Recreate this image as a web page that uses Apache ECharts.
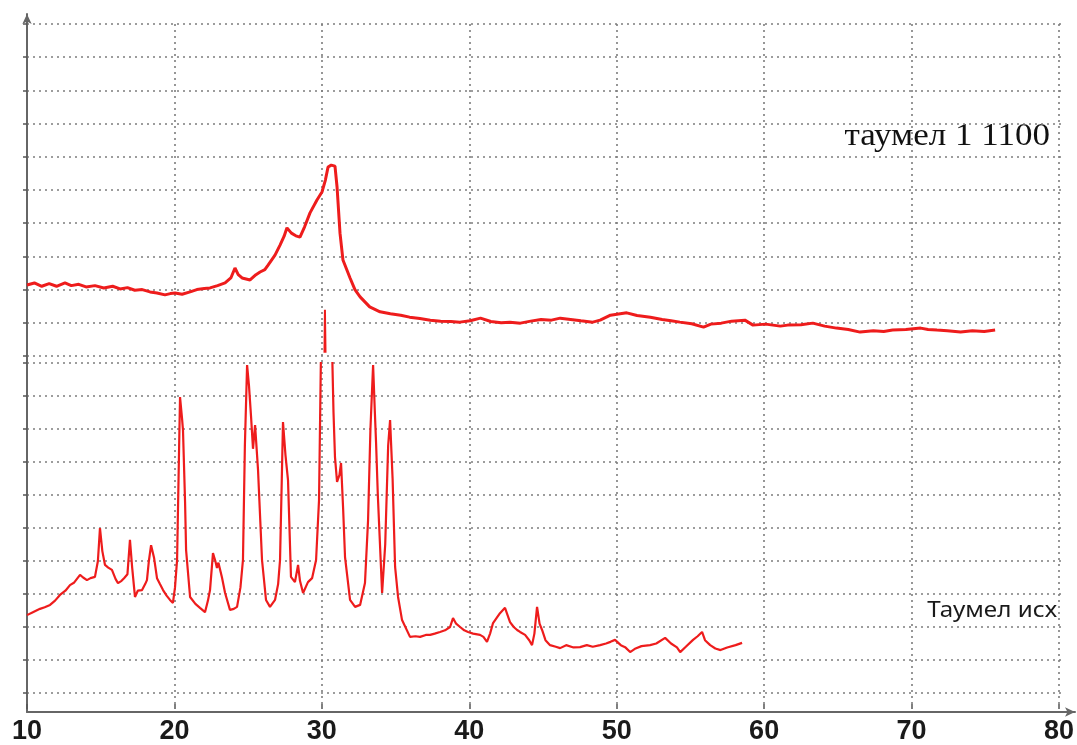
<!DOCTYPE html>
<html>
<head>
<meta charset="utf-8">
<script src="https://cdn.jsdelivr.net/npm/echarts@6/dist/echarts.min.js"></script>
<style>
  html, body { margin: 0; padding: 0; background: #fff; }
  #chart { width: 1077px; height: 745px; }
</style>
</head>
<body>
<div id="chart"></div>
<script>
// 2θ, градусы
var xTicks = [10, 20, 30, 40, 50, 60, 70, 80];

// таумел 1 1100 (верхняя дифрактограмма), отн. ед.
var taumel1100 = [
  [10.0,2.14],[10.5,2.2],[11.0,2.1],[11.5,2.18],[12.0,2.1],[12.57,2.2],[13.0,2.12],[13.5,2.16],
  [14.0,2.08],[14.6,2.12],[15.2,2.05],[15.8,2.1],[16.3,2.02],[16.8,2.06],[17.3,1.98],[17.8,2.0],
  [18.33,1.93],[18.8,1.9],[19.34,1.84],[19.7,1.88],[20.02,1.9],[20.5,1.86],[21.04,1.93],[21.5,2.0],
  [22.0,2.03],[22.39,2.05],[22.9,2.12],[23.41,2.2],[23.8,2.35],[24.08,2.65],[24.3,2.45],[24.56,2.35],
  [25.1,2.29],[25.5,2.45],[25.78,2.53],[26.1,2.6],[26.32,2.74],[26.79,3.04],[27.13,3.34],[27.4,3.6],
  [27.6,3.86],[27.9,3.7],[28.2,3.62],[28.48,3.58],[28.8,3.9],[29.16,4.31],[29.63,4.7],[29.97,4.94],
  [30.2,5.3],[30.38,5.69],[30.6,5.75],[30.85,5.72],[30.99,5.09],[31.19,3.7],[31.39,2.89],[31.87,2.35],
  [32.2,2.0],[32.55,1.78],[33.2,1.48],[33.9,1.33],[34.6,1.27],[35.3,1.23],[35.9,1.17],[36.6,1.13],
  [37.3,1.08],[38.0,1.05],[38.7,1.04],[39.3,1.02],[40.0,1.06],[40.7,1.14],[41.4,1.04],[42.1,1.0],
  [42.7,1.02],[43.4,0.99],[44.1,1.05],[44.8,1.1],[45.5,1.08],[46.1,1.14],[46.8,1.1],[47.5,1.06],
  [48.3,1.02],[48.8,1.08],[49.5,1.23],[50.6,1.3],[51.3,1.22],[52.2,1.17],[53.0,1.1],[53.6,1.06],
  [54.2,1.02],[55.0,0.97],[55.8,0.87],[56.3,0.96],[57.0,0.99],[57.7,1.05],[58.6,1.08],[59.15,0.93],
  [60.0,0.96],[61.0,0.9],[61.5,0.93],[62.4,0.94],[63.2,0.99],[64.0,0.9],[64.8,0.84],[65.6,0.8],
  [66.4,0.72],[67.3,0.76],[68.0,0.74],[68.6,0.78],[69.5,0.8],[70.5,0.84],[71.0,0.8],[71.6,0.78],
  [72.3,0.76],[73.2,0.72],[74.0,0.76],[74.8,0.74],[75.54,0.78]
];

// вершина самого сильного пика исходного образца, видная выше нижней панели
var ishTopPeak = [[30.14,0.1],[30.17,1.39],[30.21,0.1]];

// Таумел исх (нижняя дифрактограмма), отн. ед.
var taumelIsh = [
  [10.0,2.36],[10.4,2.45],[10.88,2.55],[11.2,2.6],[11.56,2.67],[11.9,2.8],[12.23,2.97],[12.6,3.1],
  [12.91,3.27],[13.2,3.35],[13.59,3.58],[13.8,3.5],[14.06,3.42],[14.3,3.48],[14.6,3.52],[14.8,4.0],
  [14.94,5.0],[15.1,4.3],[15.28,3.88],[15.5,3.8],[15.75,3.73],[16.0,3.45],[16.16,3.33],[16.4,3.4],
  [16.57,3.48],[16.8,3.6],[16.97,4.64],[17.12,3.8],[17.31,2.91],[17.5,3.1],[17.79,3.12],[18.0,3.3],
  [18.12,3.42],[18.25,4.0],[18.4,4.48],[18.6,4.1],[18.8,3.48],[19.0,3.3],[19.21,3.12],[19.45,2.95],
  [19.68,2.82],[19.88,2.73],[20.02,3.2],[20.16,4.03],[20.28,7.0],[20.36,8.97],[20.5,8.3],[20.56,7.97],
  [20.7,5.8],[20.77,4.33],[21.04,2.91],[21.4,2.7],[21.71,2.58],[22.05,2.45],[22.25,2.8],[22.39,3.12],
  [22.59,4.24],[22.75,4.0],[22.86,3.79],[22.96,3.95],[23.07,3.94],[23.2,3.5],[23.41,3.03],[23.74,2.52],
  [24.0,2.55],[24.22,2.61],[24.45,3.2],[24.62,4.03],[24.75,7.5],[24.9,9.94],[25.03,9.3],[25.17,8.36],
  [25.3,7.4],[25.44,8.12],[25.64,6.76],[25.91,4.03],[26.18,2.82],[26.45,2.61],[26.79,2.82],[27.0,3.3],
  [27.13,4.03],[27.25,6.5],[27.33,8.21],[27.5,7.2],[27.67,6.45],[27.87,3.52],[28.14,3.36],[28.35,3.88],
  [28.48,3.4],[28.69,3.03],[29.02,3.36],[29.3,3.48],[29.57,4.03],[29.77,5.85],[29.91,10.6],[30.18,11.0],
  [30.4,11.0],[30.65,10.5],[30.75,8.5],[30.85,7.15],[30.99,6.4],[31.15,6.6],[31.26,6.97],[31.4,5.6],
  [31.53,4.12],[31.87,2.82],[32.21,2.61],[32.55,2.67],[32.88,3.33],[33.09,5.24],[33.25,8.0],[33.43,9.94],
  [33.55,8.5],[33.63,7.6],[33.75,6.0],[34.04,3.03],[34.25,4.5],[34.45,7.5],[34.58,8.27],[34.75,6.5],
  [34.92,3.82],[35.12,2.91],[35.39,2.21],[35.93,1.70],[36.3,1.72],[36.61,1.70],[37.0,1.76],[37.29,1.76],
  [37.6,1.8],[37.96,1.85],[38.3,1.9],[38.64,2.0],[38.84,2.27],[39.05,2.1],[39.32,2.0],[39.6,1.9],
  [39.86,1.85],[40.2,1.8],[40.67,1.76],[40.9,1.7],[41.14,1.55],[41.35,1.8],[41.55,2.12],[42.02,2.42],
  [42.36,2.58],[42.7,2.15],[42.95,2.0],[43.18,1.91],[43.38,1.85],[43.72,1.76],[44.0,1.6],[44.19,1.45],
  [44.35,1.8],[44.53,2.61],[44.7,2.1],[44.87,1.91],[45.1,1.6],[45.41,1.45],[45.8,1.4],[46.09,1.36],
  [46.5,1.45],[47.0,1.38],[47.44,1.39],[47.9,1.45],[48.3,1.4],[48.8,1.45],[49.2,1.5],[49.5,1.55],
  [49.81,1.61],[50.2,1.45],[50.49,1.39],[50.83,1.24],[51.2,1.35],[51.6,1.42],[52.18,1.45],[52.6,1.5],
  [53.2,1.67],[53.6,1.5],[54.0,1.38],[54.22,1.24],[54.6,1.4],[55.09,1.61],[55.4,1.72],[55.7,1.85],
  [55.9,1.6],[56.25,1.45],[56.6,1.35],[56.95,1.30],[57.4,1.38],[57.97,1.45],[58.41,1.52]
];

var gridLine = { show: true, lineStyle: { color: '#7d7d7d', width: 1.6, type: [2, 4] } };
var red = '#ee1c1c';

var chart = echarts.init(document.getElementById('chart'));

// скрытая ось x для панелей
function hiddenX(i) {
  return { gridIndex: i, type: 'value', min: xTicks[0], max: xTicks[xTicks.length - 1], interval: 10, show: false };
}
// горизонтальная сетка панели
function panelY(i) {
  return {
    gridIndex: i, type: 'value', min: 0, max: 10, interval: 1,
    axisLine: { show: false },
    axisTick: { show: true, length: 4, lineStyle: { color: '#555', width: 1.5 } },
    axisLabel: { show: false },
    splitLine: gridLine
  };
}

chart.setOption({
  animation: false,
  backgroundColor: '#fff',
  grid: [
    { left: 27, right: 16, top: 24, height: 332 },   // верхняя панель
    { left: 27, right: 16, top: 363, height: 330 },  // нижняя панель
    { left: 27, right: 16, top: 24, bottom: 33 },    // ось 2θ и вертикальная сетка
    { left: 27, right: 2, top: 14, bottom: 33 }      // оси со стрелками
  ],
  xAxis: [
    hiddenX(0),
    hiddenX(1),
    {
      gridIndex: 2, type: 'value', min: xTicks[0], max: xTicks[xTicks.length - 1], interval: 10,
      axisLine: { show: false },
      axisTick: { show: true, length: 5, lineStyle: { color: '#555', width: 1.5 } },
      axisLabel: {
        show: true, margin: 14, color: '#1a1a1a', fontSize: 27, fontWeight: 'bold',
        fontFamily: 'Liberation Sans, Arial, sans-serif'
      },
      splitLine: gridLine
    },
    {
      gridIndex: 3, type: 'value', min: 0, max: 1,
      axisLine: { show: true, symbol: ['none', 'arrow'], symbolSize: [7, 10],
        lineStyle: { color: '#666', width: 2 } },
      axisTick: { show: false }, axisLabel: { show: false }, splitLine: { show: false }
    }
  ],
  yAxis: [
    panelY(0),
    panelY(1),
    { gridIndex: 2, type: 'value', min: 0, max: 1, show: false },
    {
      gridIndex: 3, type: 'value', min: 0, max: 1,
      axisLine: { show: true, symbol: ['none', 'arrow'], symbolSize: [7, 10],
        lineStyle: { color: '#666', width: 2 } },
      axisTick: { show: false }, axisLabel: { show: false }, splitLine: { show: false }
    }
  ],
  series: [
    {
      name: 'таумел 1 1100', type: 'line', xAxisIndex: 0, yAxisIndex: 0,
      data: taumel1100, showSymbol: false, smooth: false,
      lineStyle: { color: red, width: 3 }
    },
    {
      name: 'Таумел исх (вершина)', type: 'line', xAxisIndex: 0, yAxisIndex: 0,
      data: ishTopPeak, showSymbol: false,
      lineStyle: { color: red, width: 2 }
    },
    {
      name: 'Таумел исх', type: 'line', xAxisIndex: 1, yAxisIndex: 1,
      data: taumelIsh, showSymbol: false, clip: true,
      lineStyle: { color: red, width: 2.2 }
    }
  ],
  graphic: [
    {
      type: 'text', x: 1050, y: 137, scaleX: 1.13,
      style: { text: 'таумел 1 1100', font: '31px "Liberation Serif", "Times New Roman", serif',
        fill: '#111', align: 'right', verticalAlign: 'middle' }
    },
    {
      type: 'text', x: 1057, y: 611, scaleX: 1.1,
      style: { text: 'Таумел исх', font: '22px "Noto Sans", sans-serif',
        fill: '#1a1a1a', align: 'right', verticalAlign: 'middle' }
    }
  ]
});
</script>
</body>
</html>
